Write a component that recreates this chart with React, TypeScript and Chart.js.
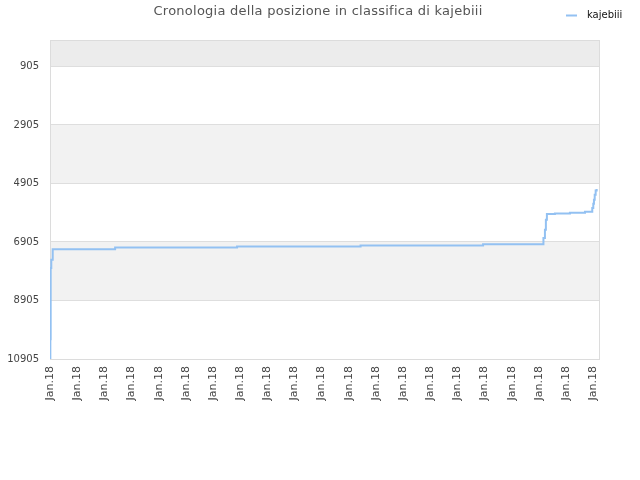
import { useEffect, useRef } from "react";
import { Chart, registerables } from "chart.js";

Chart.register(...registerables);

const chartTitle = "Cronologia della posizione in classifica di kajebiii";
const seriesLabel = "kajebiii";

// x in label units (a "Jan.18" tick every 4 units), value = ranking position
const stepX = [0, 0.05, 0.1, 0.19, 0.4, 9.59, 27.55, 45.74, 63.78, 72.67, 72.89, 73.03, 73.18, 74.36, 76.57, 78.79, 79.86, 80.01, 80.11, 80.22, 80.36, 80.51];
const rankValues = [10905, 10230, 7790, 7510, 7150, 7093, 7059, 7025, 6980, 6771, 6487, 6145, 5950, 5929, 5905, 5871, 5744, 5597, 5460, 5288, 5141, 5093];

const yTicks = [905, 2905, 4905, 6905, 8905, 10905];
const xTickPositions = [0, 4, 8, 12, 16, 20, 24, 28, 32, 36, 40, 44, 48, 52, 56, 60, 64, 68, 72, 76, 80];
const xTickLabels = ["Jan.18", "Jan.18", "Jan.18", "Jan.18", "Jan.18", "Jan.18", "Jan.18", "Jan.18", "Jan.18", "Jan.18", "Jan.18", "Jan.18", "Jan.18", "Jan.18", "Jan.18", "Jan.18", "Jan.18", "Jan.18", "Jan.18", "Jan.18", "Jan.18"];

const FONT = "'DejaVu Sans', sans-serif";
const LINE = "#93c1f2";

const framePlugin = {
  id: "frame",
  beforeDraw(chart: any) {
    const { ctx, chartArea: a, scales } = chart;
    const y = scales.y;
    ctx.save();
    ctx.fillStyle = "#ffffff";
    ctx.fillRect(0, 0, chart.width, chart.height);
    // band above the first tick
    ctx.fillStyle = "#ececec";
    ctx.fillRect(a.left, a.top, a.width, y.getPixelForValue(yTicks[0]) - a.top);
    // alternating bands between ticks
    ctx.fillStyle = "#f2f2f2";
    for (let i = 1; i < yTicks.length - 1; i += 2) {
      const top = y.getPixelForValue(yTicks[i]);
      const bottom = y.getPixelForValue(yTicks[i + 1]);
      ctx.fillRect(a.left, top, a.width, bottom - top);
    }
    ctx.restore();
  },
  beforeDatasetsDraw(chart: any) {
    const { ctx, chartArea: a } = chart;
    ctx.save();
    ctx.strokeStyle = "#dcdcdc";
    ctx.lineWidth = 1;
    ctx.strokeRect(a.left + 0.5, a.top + 0.5, a.width - 1, a.height);
    ctx.restore();
  },
  afterDraw(chart: any) {
    const { ctx } = chart;
    ctx.save();
    ctx.fillStyle = "#555555";
    ctx.font = `13px ${FONT}`;
    ctx.letterSpacing = "0.25px";
    ctx.textAlign = "center";
    ctx.textBaseline = "middle";
    ctx.fillText(chartTitle, 318, 12);
    ctx.letterSpacing = "0px";
    // legend
    ctx.strokeStyle = LINE;
    ctx.lineWidth = 2;
    ctx.beginPath();
    ctx.moveTo(566, 15.5);
    ctx.lineTo(577, 15.5);
    ctx.stroke();
    ctx.fillStyle = "#111111";
    ctx.font = `10px ${FONT}`;
    ctx.textAlign = "left";
    ctx.fillText(chart.data.datasets[0].label, 587, 15);
    ctx.restore();
  },
};

const App = () => {
  const chartRef = useRef<HTMLCanvasElement>(null);

  useEffect(() => {
    document.body.style.margin = "0";
    const ctx = chartRef.current!.getContext("2d")!;

    const myChart = new Chart(ctx, {
      type: "line",
      data: {
        datasets: [
          {
            label: seriesLabel,
            data: stepX.map((x, i) => ({ x, y: rankValues[i] })),
            borderColor: LINE,
            borderWidth: 2,
            stepped: true,
            pointRadius: 0,
            fill: false,
          },
        ],
      },
      options: {
        responsive: false,
        animation: false,
        layout: { padding: { top: 40, right: 40, left: 0, bottom: 0 } },
        plugins: {
          legend: { display: false },
          title: { display: false },
          tooltip: { enabled: false },
        },
        scales: {
          x: {
            type: "linear",
            min: 0,
            max: 81,
            afterFit: (scale: any) => {
              scale.height = 121;
            },
            afterBuildTicks: (scale: any) => {
              scale.ticks = xTickPositions.map((value) => ({ value }));
            },
            grid: { display: false, drawTicks: false },
            border: { display: false },
            ticks: {
              autoSkip: false,
              maxRotation: 90,
              minRotation: 90,
              padding: 7,
              color: "#444444",
              font: { family: FONT, size: 11 },
              callback: (_v: any, i: number) => xTickLabels[i],
            },
          },
          y: {
            reverse: true,
            min: 0,
            max: 10905,
            afterFit: (scale: any) => {
              scale.width = 50;
            },
            afterBuildTicks: (scale: any) => {
              scale.ticks = yTicks.map((value) => ({ value }));
            },
            grid: { color: "#dedede", drawTicks: false },
            border: { display: false },
            ticks: {
              padding: 11,
              color: "#444444",
              font: { family: FONT, size: 10 },
              callback: (v: any) => String(v),
            },
          },
        },
      },
      plugins: [framePlugin],
    });

    return () => {
      myChart.destroy();
    };
  }, []);

  return <canvas ref={chartRef} width={640} height={480} style={{ display: "block" }} />;
};

export default App;
